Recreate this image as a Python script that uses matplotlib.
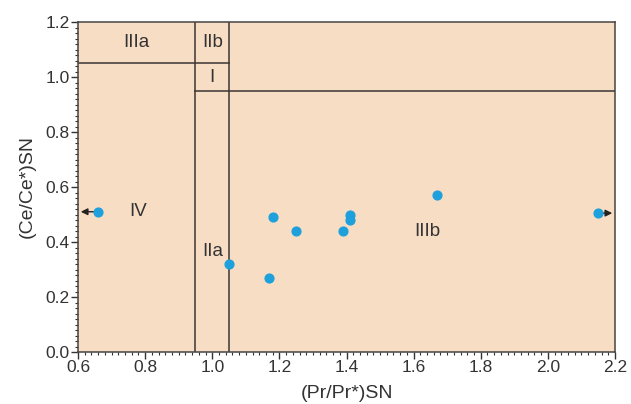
import matplotlib
matplotlib.use('Agg')
import matplotlib.pyplot as plt
from matplotlib.ticker import MultipleLocator

plt.rcParams['font.family'] = ['Liberation Sans', 'DejaVu Sans']

# sample points
pr = [0.66, 1.05, 1.17, 1.18, 1.25, 1.39, 1.41, 1.41, 1.67, 2.15]
ce = [0.51, 0.32, 0.27, 0.49, 0.44, 0.44, 0.50, 0.48, 0.57, 0.505]

# field labels
fields = ['IIIa', 'IIb', 'I', 'IV', 'IIa', 'IIIb']
field_x = [0.775, 1.0, 1.0, 0.78, 1.0, 1.64]
field_y = [1.125, 1.125, 1.0, 0.51, 0.365, 0.44]

fig = plt.figure(figsize=(6.31, 4.04), dpi=100)
ax = fig.add_axes([78/631, 1 - 352/404, 537/631, 330/404])
ax.set_facecolor('#f8ddc5')

lc = '#3c3434'
ax.plot([0.6, 1.05], [1.05, 1.05], color=lc, lw=1.1)
ax.plot([0.95, 2.2], [0.95, 0.95], color=lc, lw=1.1)
ax.plot([0.95, 0.95], [0, 1.2], color=lc, lw=1.1)
ax.plot([1.05, 1.05], [0, 1.2], color=lc, lw=1.1)

for t, x, y in zip(fields, field_x, field_y):
    ax.text(x, y, t, ha='center', va='center', fontsize=13.5, color='#333333')

# arrows for points outside the range
ax.annotate('', xy=(0.6, ce[0]), xytext=(pr[0], ce[0]),
            arrowprops=dict(arrowstyle='-|>', color='#222222', lw=1, mutation_scale=10))
ax.annotate('', xy=(2.2, ce[-1]), xytext=(pr[-1], ce[-1]),
            arrowprops=dict(arrowstyle='-|>', color='#222222', lw=1, mutation_scale=10))

ax.scatter(pr, ce, s=40, color='#1ea0dc', zorder=5)

ax.set_xlim(0.6, 2.2)
ax.set_ylim(0, 1.2)
ax.xaxis.set_major_locator(MultipleLocator(0.2))
ax.xaxis.set_minor_locator(MultipleLocator(0.02))
ax.yaxis.set_major_locator(MultipleLocator(0.2))
ax.yaxis.set_minor_locator(MultipleLocator(0.02))
ax.xaxis.set_major_formatter(lambda v, p: f'{v:.1f}')
ax.yaxis.set_major_formatter(lambda v, p: f'{v:.1f}')
ax.tick_params(which='major', length=5, width=1, labelsize=12.5, colors='#333333', pad=1)
ax.tick_params(which='minor', length=2.5, width=0.8, colors='#333333')
for s in ax.spines.values():
    s.set_color('#444444')
    s.set_linewidth(1.1)

ax.set_xlabel('(Pr/Pr*)SN', fontsize=14, color='#333333', labelpad=7)
ax.set_ylabel('(Ce/Ce*)SN', fontsize=14, color='#333333', labelpad=7)

fig.savefig('out.png', dpi=100)
